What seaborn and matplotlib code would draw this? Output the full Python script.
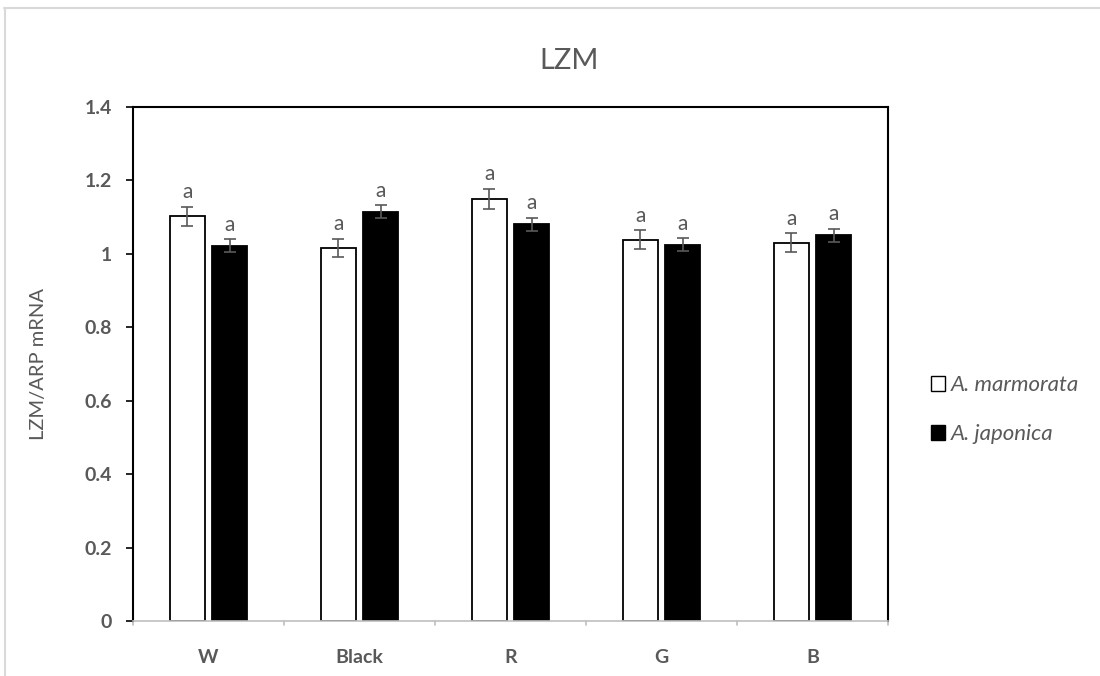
import matplotlib
matplotlib.use("Agg")
import matplotlib.pyplot as plt
import seaborn as sns
import pandas as pd
from matplotlib.patches import Patch
from matplotlib.lines import Line2D

# Relative LZM expression per light colour, two eel species
categories = ["W", "Black", "R", "G", "B"]
species = ["A. marmorata", "A. japonica"]
marmorata_mean = [1.102, 1.016, 1.150, 1.038, 1.030]
marmorata_err = [0.026, 0.025, 0.027, 0.026, 0.026]
japonica_mean = [1.022, 1.115, 1.080, 1.025, 1.050]
japonica_err = [0.018, 0.018, 0.018, 0.018, 0.018]
letters_marmorata = ["a", "a", "a", "a", "a"]
letters_japonica = ["a", "a", "a", "a", "a"]
y_ticks = [0, 0.2, 0.4, 0.6, 0.8, 1, 1.2, 1.4]
y_tick_labels = ["0", "0.2", "0.4", "0.6", "0.8", "1", "1.2", "1.4"]

df = pd.DataFrame({
    "light": categories * 2,
    "species": [species[0]] * 5 + [species[1]] * 5,
    "value": marmorata_mean + japonica_mean,
})
errs = [marmorata_err, japonica_err]
letters = [letters_marmorata, letters_japonica]

sns.set_theme(style="white")
plt.rcParams["font.family"] = ["Lato", "DejaVu Sans"]

gray = "#595959"
fig = plt.figure(figsize=(11, 6.76), dpi=100)
ax = fig.add_axes([0.1209, 0.0814, 0.6864, 0.7604])

sns.barplot(data=df, x="light", y="value", hue="species", order=categories,
            hue_order=species, palette=["white", "black"], width=0.56, gap=0.17,
            edgecolor="black", linewidth=1.3, errorbar=None, legend=False, ax=ax)

bar_groups = list(ax.containers)
for i, cont in enumerate(bar_groups):
    for j, bar in enumerate(cont):
        xc = bar.get_x() + bar.get_width() / 2
        h = bar.get_height()
        ax.errorbar(xc, h, yerr=errs[i][j], fmt="none", ecolor=gray,
                    elinewidth=1.2, capsize=4, capthick=1.2, zorder=5)
        ax.text(xc, h + errs[i][j] + 0.012, letters[i][j], ha="center",
                va="bottom", fontsize=15, color=gray)

ax.set_ylim(0, 1.4)
ax.set_xlim(-0.5, 4.5)
ax.set_yticks(y_ticks)
ax.set_yticklabels(y_tick_labels, fontsize=14, fontweight="bold", color=gray)
ax.set_xticks(range(len(categories)))
ax.set_xticklabels(categories, fontsize=14, fontweight="bold", color=gray)
ax.set_xlabel("")
ax.set_ylabel("LZM/ARP mRNA", fontsize=14.5, color=gray, labelpad=27)
ax.set_title("LZM", fontsize=21, color=gray, pad=27, x=0.578)

for side in ["left", "top", "right"]:
    ax.spines[side].set_color("black")
    ax.spines[side].set_linewidth(1.5)
ax.spines["bottom"].set_color("#bfbfbf")
ax.spines["bottom"].set_linewidth(1.2)

ax.tick_params(axis="y", which="major", left=True, length=5, width=1.2,
               color="black", pad=10)
ax.tick_params(axis="x", which="major", bottom=False, pad=14)
# category separators on the x axis
for b in [x - 0.5 for x in range(len(categories) + 1)]:
    ax.plot([b, b], [0, -0.012], color="#bfbfbf", lw=1.2, clip_on=False,
            transform=ax.transData)

handles = [Patch(facecolor="white", edgecolor="black", linewidth=1.0),
           Patch(facecolor="black", edgecolor="black", linewidth=1.0)]
leg = fig.legend(handles, species, loc="center left",
                 bbox_to_anchor=(0.828, 0.394), frameon=False,
                 prop={"style": "italic", "size": 16}, labelcolor=gray,
                 handlelength=0.65, handleheight=0.65, handletextpad=0.25,
                 labelspacing=1.3)

# light frame around the chart area
fig.add_artist(Line2D([0.004, 1.0], [1 - 8 / 676, 1 - 8 / 676],
                      transform=fig.transFigure, color="#d9d9d9", lw=1.5))
fig.add_artist(Line2D([0.0045, 0.0045], [0, 1 - 8 / 676],
                      transform=fig.transFigure, color="#d9d9d9", lw=1.5))

fig.savefig("out.png", dpi=100)
